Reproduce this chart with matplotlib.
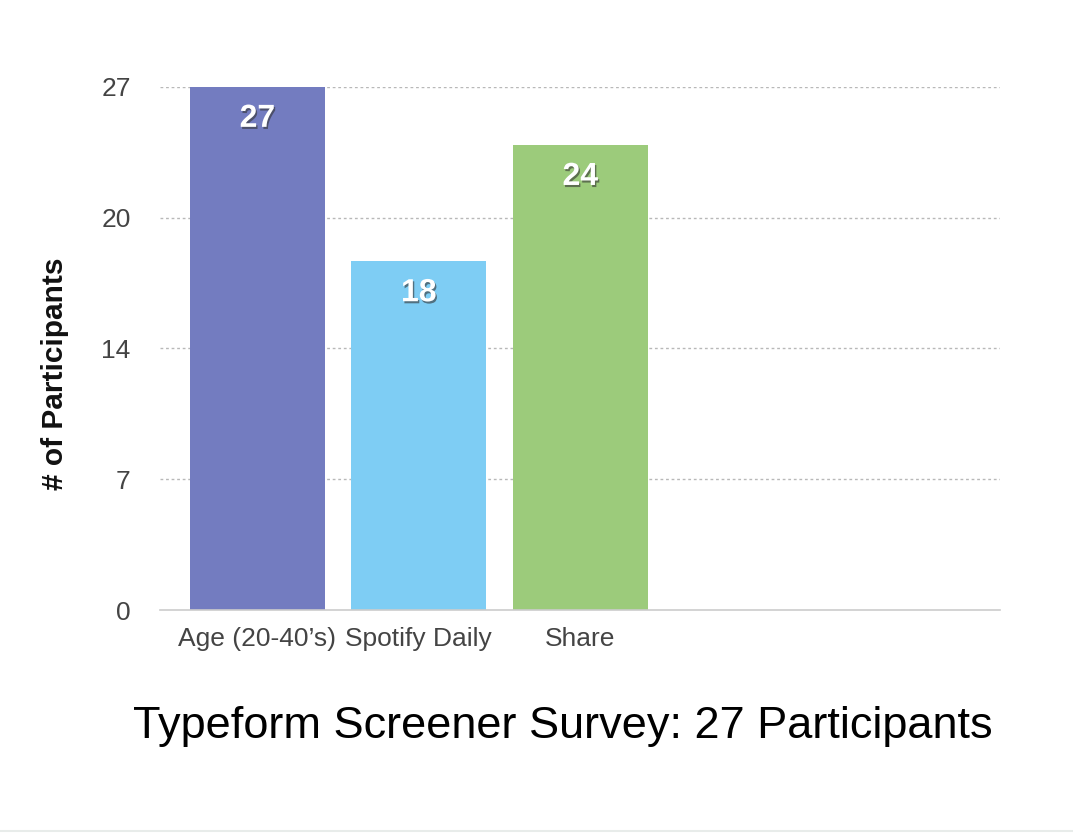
import matplotlib.pyplot as plt
import matplotlib.patheffects as pe

categories = ["Age (20-40\u2019s)", "Spotify Daily", "Share"]
values = [27, 18, 24]
colors = ["#737cc0", "#7ecdf4", "#9ccb7b"]
tick_values = [0, 6.75, 13.5, 20.25, 27]
tick_labels = ["0", "7", "14", "20", "27"]

plt.rcParams['font.family'] = ['Liberation Sans', 'DejaVu Sans']

fig = plt.figure(figsize=(10.73, 8.33), dpi=100)
ax = fig.add_axes([0.149, 0.2677, 0.783, 0.628])

x = list(range(len(categories)))
bars = ax.bar(x, values, width=0.836, color=colors, zorder=2)

for xi, v in zip(x, values):
    ax.text(xi, v - 1.65, str(v), ha="center", va="center", color="white",
            fontsize=23, fontweight="bold", zorder=3,
            path_effects=[pe.withSimplePatchShadow(offset=(1, -1.5), shadow_rgbFace="#333333", alpha=0.6)])

ax.set_xlim(-0.604, 4.6)
ax.set_ylim(0, 27)
ax.set_yticks(tick_values)
ax.set_yticklabels(tick_labels)
ax.set_xticks(x)
ax.set_xticklabels(categories)
ax.tick_params(axis="both", length=0, labelsize=19, labelcolor="#444444")
ax.tick_params(axis="y", pad=21)
ax.tick_params(axis="x", pad=12)

for t in tick_values[1:]:
    ax.axhline(t, color="#b8b8b8", linestyle=(0, (2, 2)), linewidth=1, zorder=1)

for s in ["top", "right", "left"]:
    ax.spines[s].set_visible(False)
ax.spines["bottom"].set_color("#cccccc")
ax.spines["bottom"].set_linewidth(1.2)

ax.set_ylabel("# of Participants", fontsize=21.5, fontweight="bold", color="#111111", labelpad=23)
ax.yaxis.label.set_y(0.451)

fig.text(0.5242, 0.128, "Typeform Screener Survey: 27 Participants", ha="center", va="center",
         fontsize=32.5, color="black")

fig.add_artist(plt.Line2D([0, 1], [0.002, 0.002], color="#e8ecea", linewidth=1.5))

fig.savefig("out.png", dpi=100)
